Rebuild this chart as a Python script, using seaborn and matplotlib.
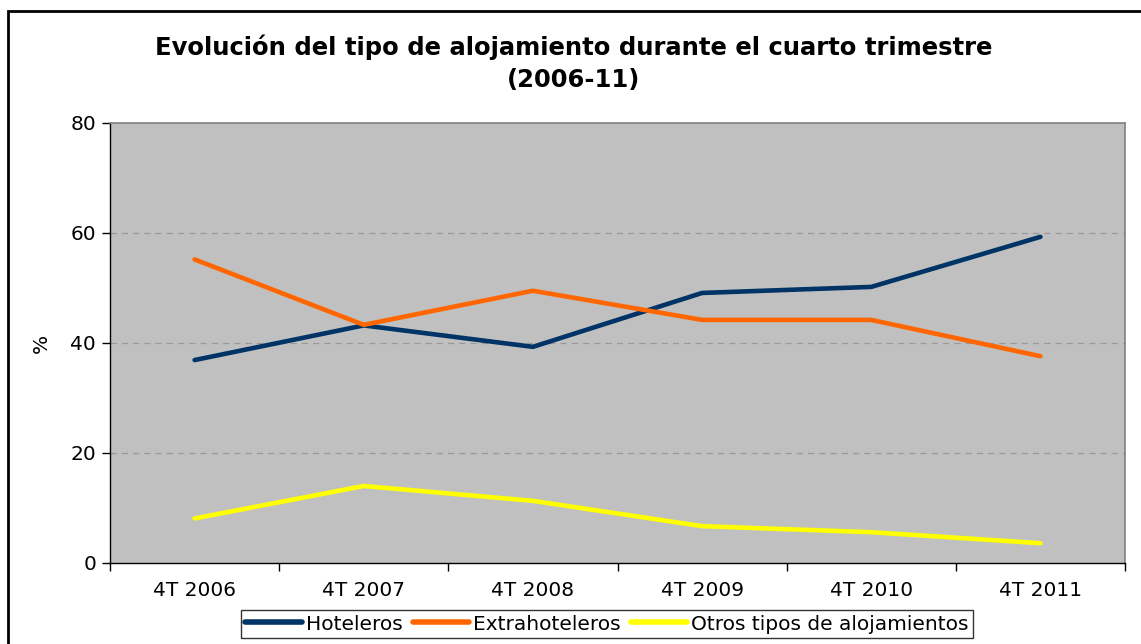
import matplotlib
matplotlib.use("Agg")
import matplotlib.pyplot as plt
import seaborn as sns
import pandas as pd
from matplotlib.patches import Rectangle
from matplotlib.lines import Line2D

categories = ["4T 2006", "4T 2007", "4T 2008", "4T 2009", "4T 2010", "4T 2011"]
hoteleros = [36.9, 43.2, 39.3, 49.1, 50.2, 59.3]
extrahoteleros = [55.2, 43.3, 49.5, 44.2, 44.2, 37.6]
otros = [8.1, 14.0, 11.3, 6.7, 5.6, 3.6]
series_names = ["Hoteleros", "Extrahoteleros", "Otros tipos de alojamientos"]
colors = ["#003366", "#FF6600", "#FFFF00"]
y_ticks = [0, 20, 40, 60, 80]

rows = []
for name, vals in zip(series_names, [hoteleros, extrahoteleros, otros]):
    for i, (c, v) in enumerate(zip(categories, vals)):
        rows.append({"pos": i, "cat": c, "serie": name, "valor": v})
df = pd.DataFrame(rows)

sns.set_theme(style="white")
plt.rcParams['font.family'] = ['DejaVu Sans']
plt.rcParams.update({"text.color": "black", "axes.labelcolor": "black",
                     "xtick.color": "black", "ytick.color": "black"})

fig = plt.figure(figsize=(11.41, 6.44), dpi=100)
ax = fig.add_axes([110/1141, (644-563)/644, (1125-110)/1141, (563-123)/644])
ax.set_facecolor("#C0C0C0")

sns.lineplot(data=df, x="pos", y="valor", hue="serie", hue_order=series_names,
             palette=colors, linewidth=3.3, ax=ax, legend=False,
             solid_capstyle="round", solid_joinstyle="round")

ax.set_xlim(-0.5, len(categories) - 0.5)
ax.set_ylim(0, 80)
ax.set_yticks(y_ticks)
ax.set_yticklabels([str(t) for t in y_ticks], fontsize=14.5)
ax.set_xticks([i - 0.5 for i in range(len(categories) + 1)])
ax.set_xticklabels([])
ax.set_xticks(range(len(categories)), minor=True)
ax.set_xticklabels(categories, minor=True, fontsize=14.5)
ax.tick_params(axis="x", which="major", length=6, width=1, color="black", direction="out", bottom=True)
ax.tick_params(axis="x", which="minor", length=0, pad=13)
ax.tick_params(axis="y", length=6, width=1, color="black", direction="out", left=True, pad=4)
for t in y_ticks[1:4]:
    ax.axhline(t, color="#999999", linestyle=(0, (5, 4)), linewidth=0.9, zorder=0.5)
ax.set_xlabel("")
ax.set_ylabel("%", fontsize=14.5, labelpad=14)

for s in ["left", "bottom"]:
    ax.spines[s].set_color("black")
    ax.spines[s].set_linewidth(1)
for s in ["top", "right"]:
    ax.spines[s].set_color("#808080")
    ax.spines[s].set_linewidth(1.2)

fig.text(0.503, 1 - 47/644, "Evolución del tipo de alojamiento durante el cuarto trimestre",
         ha="center", va="center", fontsize=17.5, fontweight="bold", color="black")
fig.text(0.503, 1 - 80/644, "(2006-11)", ha="center", va="center", fontsize=17.5,
         fontweight="bold", color="black")

# outer frame
fig.patches.append(Rectangle((8/1141, -0.05), 1.2, 1 - 11/644 + 0.05, transform=fig.transFigure,
                             fill=False, edgecolor="black", linewidth=2, zorder=0))

handles = [Line2D([0], [0], color=c, linewidth=4, solid_capstyle="round") for c in colors]
leg = fig.legend(handles, series_names, loc="center", bbox_to_anchor=(607/1141, 1 - 624/644),
                 ncol=3, fontsize=14.5, frameon=True, fancybox=False, edgecolor="black",
                 handlelength=2.8, handletextpad=0.2, columnspacing=0.5, borderpad=0.2,
                 borderaxespad=0)
leg.get_frame().set_linewidth(1)
leg.get_frame().set_facecolor("white")

fig.savefig("out.png", dpi=100, facecolor="white")
